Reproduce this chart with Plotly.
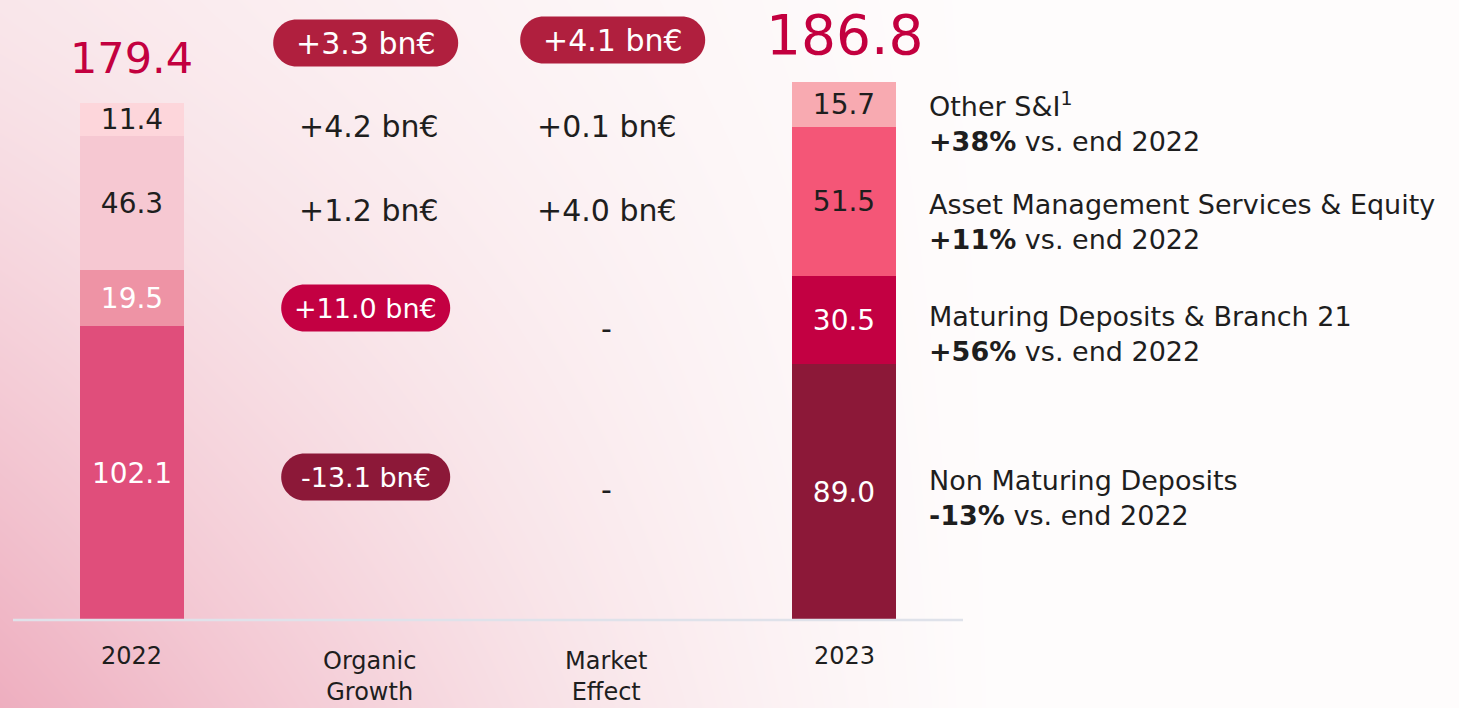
import numpy as np
import plotly.graph_objects as go

# ---------------- data ----------------
categories = ["2022", "Organic<br>Growth", "Market<br>Effect", "2023"]
segments = ["Non Maturing Deposits", "Maturing Deposits & Branch 21",
            "Asset Management Services & Equity", "Other S&I<sup>1</sup>"]
values_2022 = [102.1, 19.5, 46.3, 11.4]
values_2023 = [89.0, 30.5, 51.5, 15.7]
totals = [179.4, 186.8]
organic_growth = ["-13.1 bn€", "+11.0 bn€", "+1.2 bn€", "+4.2 bn€"]
organic_total = "+3.3 bn€"
market_effect = ["-", "-", "+4.0 bn€", "+0.1 bn€"]
market_total = "+4.1 bn€"
change_vs_2022 = ["-13%", "+56%", "+11%", "+38%"]

# ---------------- style ----------------
FONT = "DejaVu Sans"
DARK = "#1e1e1e"
TOTAL_RED = "#c3003f"
colors_2022 = ["#e04e7b", "#ee93a5", "#f6c8d2", "#fdd6db"]
colors_2023 = ["#8c1838", "#c30042", "#f45677", "#f8aab1"]
text_2022 = ["white", "white", DARK, DARK]
text_2023 = ["white", "white", DARK, DARK]
organic_pill = [True, True, False, False]
total_pill_color = "#b01f3e"

W, H = 1459, 708
PX_PER_CAT = 237.5
PX_PER_UNIT = 517 / 179.4
BASE_PX = 620
X0_PX = 13


def dx(px):
    return (px - X0_PX) / PX_PER_CAT - 0.5


def dy(px):
    return (BASE_PX - px) / PX_PER_UNIT


x_range = [dx(0), dx(W)]
y_range = [dy(H), dy(0)]

# row positions (pixels -> data)
organic_row_px = [477, 308, 210, 126]
market_row_px = [489, 328, 210, 126]
organic_total_px = 43
market_total_px = 40
label_row_px = [498, 333.5, 222, 121.5]

fig = go.Figure()

# background gradient (decoration)
gx = np.linspace(x_range[0], x_range[1], 50)
gy = np.linspace(y_range[0], y_range[1], 30)
u = (gx - x_range[0]) / (x_range[1] - x_range[0])
v = 1 - (gy - y_range[0]) / (y_range[1] - y_range[0])
U, V = np.meshgrid(u, v)
Z = np.clip(1 - U * 1.45, 0, 1) ** 1.3 * (0.3 + 0.7 * V ** 1.2)
fig.add_trace(go.Heatmap(
    x=gx, y=gy, z=Z, zmin=0, zmax=1, zsmooth="best", showscale=False,
    hoverinfo="skip",
    colorscale=[[0, "#fefcfc"], [0.3, "#f9e6ea"], [1, "#eeaebf"]],
))

# stacked bars
for i, seg in enumerate(segments):
    fig.add_trace(go.Bar(
        x=[0, 3], y=[values_2022[i], values_2023[i]], width=0.438,
        marker=dict(color=[colors_2022[i], colors_2023[i]], line_width=0),
        texttemplate="%{y:.1f}", textposition="inside", insidetextanchor="middle",
        textangle=0,
        textfont=dict(family=FONT, size=28, color=[text_2022[i], text_2023[i]]),
        hoverinfo="skip", showlegend=False, name=seg,
    ))

shapes = [dict(type="line", xref="x", yref="y", x0=-0.5, x1=3.5, y0=0, y1=0,
               line=dict(color="#dfe2ea", width=2.5), layer="above")]


def pill(cx, cy_px, w, h, color):
    r = h / 2
    k = 0.5523 * r
    pts = [
        ("M", [(-w / 2 + r, -r)]),
        ("L", [(w / 2 - r, -r)]),
        ("C", [(w / 2 - r + k, -r), (w / 2, -k), (w / 2, 0)]),
        ("C", [(w / 2, k), (w / 2 - r + k, r), (w / 2 - r, r)]),
        ("L", [(-w / 2 + r, r)]),
        ("C", [(-w / 2 + r - k, r), (-w / 2, k), (-w / 2, 0)]),
        ("C", [(-w / 2, -k), (-w / 2 + r - k, -r), (-w / 2 + r, -r)]),
    ]
    path = ""
    for cmd, ps in pts:
        path += cmd + " " + " ".join(
            f"{cx + px / PX_PER_CAT:.5f},{dy(cy_px + py):.5f}" for px, py in ps) + " "
    path += "Z"
    return dict(type="path", xref="x", yref="y", path=path,
                fillcolor=color, line=dict(width=0), layer="above")


annotations = []


def add_text(x, y, text, size, color=DARK, xanchor="center", align="center"):
    annotations.append(dict(x=x, y=y, xref="x", yref="y", text=text, showarrow=False,
                            xanchor=xanchor, yanchor="middle", align=align,
                            font=dict(family=FONT, size=size, color=color)))


# totals
add_text(0, dy(58), f"{totals[0]:.1f}", 43, TOTAL_RED)
add_text(3, dy(35), f"{totals[1]:.1f}", 55, TOTAL_RED)

# category labels
add_text(0, dy(656), categories[0], 24)
add_text(1, dy(676), categories[1], 24)
add_text(2, dy(676), categories[2], 24)
add_text(3, dy(656), categories[3], 24)

# organic growth column
ox, mx = 0.985, 2.025
shapes.append(pill(ox, organic_total_px, 185, 47, total_pill_color))
add_text(ox, dy(organic_total_px), organic_total, 30, "white")
for i, t in enumerate(organic_growth):
    if organic_pill[i]:
        shapes.append(pill(ox, organic_row_px[i], 169, 47, colors_2023[i]))
        add_text(ox, dy(organic_row_px[i]), t, 27, "white")
    else:
        add_text(1.0, dy(organic_row_px[i]), t, 30)

# market effect column
shapes.append(pill(mx, market_total_px, 185, 47, total_pill_color))
add_text(mx, dy(market_total_px), market_total, 30, "white")
for i, t in enumerate(market_effect):
    add_text(2.0, dy(market_row_px[i]), t, 30)

# right-side labels
for i, seg in enumerate(segments):
    add_text(dx(927), dy(label_row_px[i]),
             f"{seg}<br><b>{change_vs_2022[i]}</b> vs. end 2022", 27,
             xanchor="left", align="left")

fig.update_layout(
    width=W, height=H, autosize=False,
    margin=dict(l=0, r=0, t=0, b=0, pad=0),
    barmode="stack", bargap=0,
    paper_bgcolor="white", plot_bgcolor="white",
    xaxis=dict(range=x_range, visible=False, fixedrange=True),
    yaxis=dict(range=y_range, visible=False, fixedrange=True),
    uniformtext=dict(mode="show", minsize=28),
    shapes=shapes, annotations=annotations,
    showlegend=False, font=dict(family=FONT, color=DARK),
)

fig.write_html("out.html", config={"displayModeBar": False},
               post_script="document.body.style.margin='0';document.body.style.overflow='hidden';")
